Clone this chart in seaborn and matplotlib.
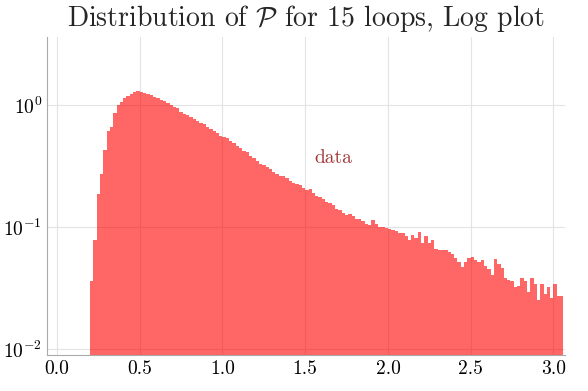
import numpy as np
import pandas as pd
import seaborn as sns
import matplotlib.pyplot as plt
from matplotlib.ticker import LogLocator, MultipleLocator

# histogram of P (normalised), bins of width 0.02 starting at 0.20
bin_start = 0.20
bin_width = 0.02
heights = [
    0.036, 0.078, 0.187, 0.27, 0.43, 0.61, 0.66, 0.86, 1.0, 1.06,
    1.14, 1.18, 1.23, 1.28, 1.30, 1.28, 1.25, 1.23, 1.21, 1.16,
    1.14, 1.10, 1.08, 1.04, 1.0, 0.96, 0.95, 0.88, 0.84, 0.83,
    0.80, 0.77, 0.74, 0.71, 0.70, 0.66, 0.64, 0.61, 0.59, 0.56,
    0.55, 0.54, 0.51, 0.49, 0.46, 0.44, 0.42, 0.41, 0.38, 0.37,
    0.35, 0.33, 0.32, 0.31, 0.30, 0.28, 0.27, 0.26, 0.26, 0.25,
    0.24, 0.23, 0.225, 0.22, 0.21, 0.20, 0.205, 0.19, 0.18, 0.175,
    0.17, 0.16, 0.157, 0.15, 0.14, 0.137, 0.13, 0.126, 0.128, 0.123,
    0.117, 0.116, 0.112, 0.106, 0.103, 0.114, 0.106, 0.10, 0.10, 0.098,
    0.096, 0.094, 0.092, 0.089, 0.089, 0.084, 0.078, 0.086, 0.081, 0.091,
    0.074, 0.084, 0.074, 0.078, 0.066, 0.065, 0.065, 0.065, 0.062, 0.060,
    0.056, 0.052, 0.047, 0.052, 0.056, 0.057, 0.054, 0.052, 0.054, 0.048,
    0.045, 0.040, 0.055, 0.050, 0.046, 0.038, 0.037, 0.036, 0.032, 0.033,
    0.038, 0.036, 0.029, 0.038, 0.034, 0.025, 0.034, 0.028, 0.032, 0.026,
    0.034, 0.027, 0.027,
]
x_ticks = [0.0, 0.5, 1.0, 1.5, 2.0, 2.5, 3.0]
title = r"Distribution of $\mathcal{P}$ for 15 loops, Log plot"
label = "data"

n = len(heights)
centers = bin_start + bin_width * (np.arange(n) + 0.5)
df = pd.DataFrame({"P": centers, "density": heights})

sns.set_style("white")
plt.rcParams["font.family"] = "serif"
plt.rcParams["font.serif"] = ["cmr10", "DejaVu Serif"]
plt.rcParams["mathtext.fontset"] = "cm"
plt.rcParams["axes.formatter.use_mathtext"] = True

fig = plt.figure(figsize=(5.88, 3.91), dpi=100)
ax = fig.add_axes([0.080, 0.092, 0.881, 0.813])

sns.histplot(data=df, x="P", weights="density", binwidth=bin_width,
             binrange=(bin_start, bin_start + bin_width * n), stat="count",
             color="red", alpha=0.6, linewidth=0, ax=ax)

ax.set_yscale("log")
ax.set_xlim(-0.06, 3.07)
ax.set_ylim(0.0089, 3.6)
ax.set_xticks(x_ticks)
ax.set_xticklabels([f"{t:.1f}" for t in x_ticks])
ax.xaxis.set_minor_locator(MultipleLocator(0.1))
ax.yaxis.set_major_locator(LogLocator(base=10, numticks=5))
ax.yaxis.set_minor_locator(LogLocator(base=10, subs=np.arange(2, 10), numticks=20))
ax.grid(True, which="major", color="#e3e3e3", linewidth=0.8)
ax.set_axisbelow(True)
ax.tick_params(which="both", direction="in", colors="#888888", labelcolor="black",
               labelsize=14)
ax.tick_params(which="major", length=4)
ax.tick_params(which="minor", length=2)
for s in ["top", "right"]:
    ax.spines[s].set_visible(False)
for s in ["left", "bottom"]:
    ax.spines[s].set_color("#aaaaaa")
ax.set_xlabel("")
ax.set_ylabel("")
ax.set_title(title, fontsize=20, pad=8)

ax.text(1.67, 0.37, label, color="#a03535", fontsize=14, ha="center", va="center")

fig.savefig("out.png", dpi=100)
